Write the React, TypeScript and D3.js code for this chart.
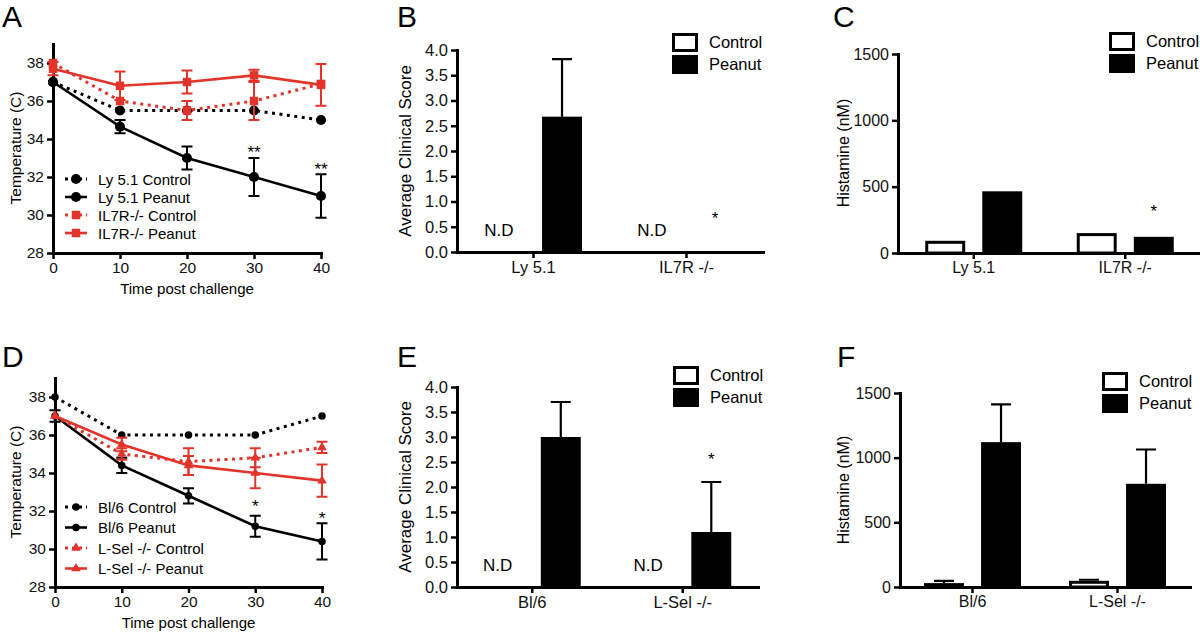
import * as d3 from "d3";
import React, { useEffect, useRef } from "react";

// ---- data ----
const timePoints = [0, 10, 20, 30, 40];
const tempTicks = [28, 30, 32, 34, 36, 38];

// panel A
const ly51Control = [37, 35.5, 35.5, 35.5, 35];
const ly51ControlErr = [0, 0, 0, 0, 0];
const ly51Peanut = [37, 34.65, 33, 32, 31];
const ly51PeanutErr = [0, 0.35, 0.6, 1.0, 1.15];
const il7rControl = [38, 36, 35.5, 36, 36.9];
const il7rControlErr = [0, 0, 0.5, 1.0, 0];
const il7rPeanut = [37.7, 36.8, 37, 37.35, 36.85];
const il7rPeanutErr = [0.35, 0.75, 0.6, 0.3, 1.1];
const starsA = [
  { t: 30, v: 33.5, text: "**" },
  { t: 40, v: 32.6, text: "**" },
];

// panel D
const bl6Control = [38, 36, 36, 36, 37];
const bl6ControlErr = [0, 0, 0, 0, 0];
const bl6Peanut = [37, 34.4, 32.8, 31.2, 30.4];
const bl6PeanutErr = [0.3, 0.4, 0.4, 0.55, 0.95];
const lselControl = [37, 35, 34.6, 34.8, 35.35];
const lselControlErr = [0, 0.3, 0.7, 0.5, 0.3];
const lselPeanut = [37, 35.5, 34.4, 34, 33.6];
const lselPeanutErr = [0, 0.35, 0.5, 0.8, 0.85];
const starsD = [
  { t: 30, v: 32.45, text: "*" },
  { t: 40, v: 31.8, text: "*" },
];

// bar panels
const conditions = ["Control", "Peanut"];
const groupsB = ["Ly 5.1", "IL7R -/-"];
const scoreControlB = [null, null]; // N.D
const scorePeanutB = [2.68, 0];
const scorePeanutErrB = [1.14, 0];
const starsB = [{ group: "IL7R -/-", v: 0.75 }];

const groupsC = ["Ly 5.1", "IL7R -/-"];
const histControlC = [92, 150];
const histPeanutC = [465, 122];
const starsC = [{ group: "IL7R -/-", v: 345 }];

const groupsE = ["Bl/6", "L-Sel -/-"];
const scoreControlE = [null, null];
const scorePeanutE = [3.0, 1.1];
const scorePeanutErrE = [0.7, 1.0];
const starsE = [{ group: "L-Sel -/-", v: 2.63 }];

const groupsF = ["Bl/6", "L-Sel -/-"];
const histControlF = [30, 48];
const histControlErrF = [18, 8];
const histPeanutF = [1120, 798];
const histPeanutErrF = [292, 265];

const scoreTicks = [0, 0.5, 1, 1.5, 2, 2.5, 3, 3.5, 4];
const histTicks = [0, 500, 1000, 1500];

const RED = "#e3342b";
const FONT = "'Liberation Sans', Arial, Helvetica, sans-serif";

function styleAxis(g, fs) {
  g.attr("font-size", fs).attr("font-family", FONT);
  g.select(".domain").attr("stroke", "#000").attr("stroke-width", 3).attr("stroke-linecap", "square");
  g.selectAll(".tick line").attr("stroke", "#000").attr("stroke-width", 2.5);
  g.selectAll(".tick text").attr("fill", "#111");
}

function panelLetter(svg, letter, x, y) {
  svg.append("text").attr("x", x).attr("y", y).attr("font-size", 30).attr("font-family", FONT).text(letter);
}

function yTitle(svg, text, x, cy, fs) {
  svg
    .append("text")
    .attr("transform", `translate(${x},${cy}) rotate(-90)`)
    .attr("text-anchor", "middle")
    .attr("font-size", fs)
    .attr("font-family", FONT)
    .text(text);
}

function drawLinePanel(svg, p) {
  const g = svg.append("g");
  const x = d3.scaleLinear().domain([0, 40]).range(p.xRange);
  const y = d3.scaleLinear().domain([28, 39]).range(p.yRange);

  styleAxis(
    g.append("g")
      .attr("transform", `translate(0,${p.yRange[0]})`)
      .call(d3.axisBottom(x).tickValues(timePoints).tickSize(6).tickSizeOuter(0).tickPadding(3)),
    15.5
  );
  styleAxis(
    g.append("g")
      .attr("transform", `translate(${p.xRange[0]},0)`)
      .call(d3.axisLeft(y).tickValues(tempTicks).tickSize(6).tickSizeOuter(0).tickPadding(3)),
    15.5
  );

  p.series.forEach((s) => {
    const line = d3
      .line()
      .x((d, i) => x(timePoints[i]))
      .y((d) => y(d));
    g.append("path")
      .attr("d", line(s.values))
      .attr("fill", "none")
      .attr("stroke", s.color)
      .attr("stroke-width", s.dashed ? 3 : 2.6)
      .attr("stroke-dasharray", s.dashed ? "3,4.5" : null);

    s.errors.forEach((e, i) => {
      if (!e) return;
      const cx = x(timePoints[i]);
      const y0 = y(s.values[i] - e);
      const y1 = y(s.values[i] + e);
      g.append("path")
        .attr("d", `M${cx},${y0}V${y1}M${cx - 5.5},${y0}H${cx + 5.5}M${cx - 5.5},${y1}H${cx + 5.5}`)
        .attr("stroke", s.color)
        .attr("stroke-width", 2)
        .attr("fill", "none");
    });

    const sym = d3.symbol().type(s.marker).size(s.size);
    g.selectAll(null)
      .data(s.values)
      .join("path")
      .attr("transform", (d, i) => `translate(${x(timePoints[i])},${y(d)})`)
      .attr("d", sym())
      .attr("fill", s.color);
  });

  // legend
  p.series.forEach((s, i) => {
    const ly = p.legendY + i * p.legendStep;
    g.append("line")
      .attr("x1", p.legendX)
      .attr("x2", p.legendX + 22)
      .attr("y1", ly)
      .attr("y2", ly)
      .attr("stroke", s.color)
      .attr("stroke-width", s.dashed ? 3 : 2.6)
      .attr("stroke-dasharray", s.dashed ? "3,4" : null);
    g.append("path")
      .attr("transform", `translate(${p.legendX + 11},${ly})`)
      .attr("d", d3.symbol().type(s.marker).size(s.size)())
      .attr("fill", s.color);
    g.append("text")
      .attr("x", p.legendX + 33)
      .attr("y", ly + 5.5)
      .attr("font-size", 15)
      .attr("font-family", FONT)
      .text(s.name);
  });

  p.stars.forEach((st) => {
    g.append("text")
      .attr("x", x(st.t))
      .attr("y", y(st.v) + 9.5)
      .attr("text-anchor", "middle")
      .attr("font-size", 17)
      .attr("font-family", FONT)
      .text(st.text);
  });

  g.append("text")
    .attr("x", (p.xRange[0] + p.xRange[1]) / 2)
    .attr("y", p.yRange[0] + 41)
    .attr("text-anchor", "middle")
    .attr("font-size", 15)
    .attr("font-family", FONT)
    .text("Time post challenge");
}

function drawBarPanel(svg, p) {
  const g = svg.append("g");
  const x0 = d3.scaleBand().domain(p.groups).range(p.xRange).paddingInner(0).paddingOuter(0);
  const x1 = d3.scaleBand().domain(conditions).range([-48.5, 48.5]).paddingInner(0.3);
  const y = d3.scaleLinear().domain(p.yDomain).range(p.yRange);
  const cx = (grp) => x0(grp) + x0.bandwidth() / 2;
  const bw = x1.bandwidth();

  const series = [
    { key: "Control", values: p.control, errors: p.controlErr },
    { key: "Peanut", values: p.peanut, errors: p.peanutErr },
  ];

  series.forEach((s) => {
    p.groups.forEach((grp, i) => {
      const v = s.values[i];
      const left = cx(grp) + x1(s.key);
      if (v == null) {
        g.append("text")
          .attr("x", left + bw / 2 - 6)
          .attr("y", y(0) - 16)
          .attr("text-anchor", "middle")
          .attr("font-size", 17)
          .attr("font-family", FONT)
          .text("N.D");
        return;
      }
      if (v <= 0) return;
      const e = s.errors ? s.errors[i] : 0;
      if (e) {
        const mx = left + bw / 2;
        g.append("path")
          .attr("d", `M${mx},${y(v)}V${y(v + e)}M${mx - 10},${y(v + e)}H${mx + 10}`)
          .attr("stroke", "#000")
          .attr("stroke-width", 2.2)
          .attr("fill", "none");
      }
      if (s.key === "Control") {
        g.append("rect")
          .attr("x", left + 1.5)
          .attr("y", y(v) + 1.5)
          .attr("width", bw - 3)
          .attr("height", Math.max(0, y(0) - y(v) - 1.5))
          .attr("fill", "#fff")
          .attr("stroke", "#000")
          .attr("stroke-width", 3);
      } else {
        g.append("rect")
          .attr("x", left)
          .attr("y", y(v))
          .attr("width", bw)
          .attr("height", y(0) - y(v))
          .attr("fill", "#000");
      }
    });
  });

  styleAxis(
    g.append("g")
      .attr("transform", `translate(0,${p.yRange[0]})`)
      .call(d3.axisBottom(x0).tickSize(6).tickSizeOuter(0).tickPadding(3)),
    p.fs
  );
  styleAxis(
    g.append("g")
      .attr("transform", `translate(${p.xRange[0]},0)`)
      .call(d3.axisLeft(y).tickValues(p.ticks).tickFormat(p.format).tickSize(6).tickSizeOuter(0).tickPadding(3)),
    p.fs
  );

  p.stars.forEach((st) => {
    g.append("text")
      .attr("x", cx(st.group) + x1("Peanut") + bw / 2)
      .attr("y", y(st.v) + 9.5)
      .attr("text-anchor", "middle")
      .attr("font-size", 17)
      .attr("font-family", FONT)
      .text("*");
  });

  // legend
  conditions.forEach((c, i) => {
    const by = p.legendY + i * 22;
    g.append("rect")
      .attr("x", p.legendX + (i === 0 ? 1.5 : 0))
      .attr("y", by + (i === 0 ? 1.5 : 0))
      .attr("width", i === 0 ? 23 : 26)
      .attr("height", i === 0 ? 16 : 19)
      .attr("fill", i === 0 ? "#fff" : "#000")
      .attr("stroke", i === 0 ? "#000" : "none")
      .attr("stroke-width", 3);
    g.append("text")
      .attr("x", p.legendX + 37)
      .attr("y", by + 15)
      .attr("font-size", 16.5)
      .attr("font-family", FONT)
      .text(c);
  });
}

export default function App() {
  const ref = useRef(null);

  useEffect(() => {
    const svg = d3.select(ref.current);
    svg.selectAll("*").remove();

    // A
    panelLetter(svg, "A", 2, 27);
    yTitle(svg, "Temperature (C)", 21, 148, 15.5);
    drawLinePanel(svg, {
      xRange: [53, 321],
      yRange: [253, 44],
      legendX: 65,
      legendY: 179,
      legendStep: 18,
      stars: starsA,
      series: [
        { name: "Ly 5.1 Control", values: ly51Control, errors: ly51ControlErr, color: "#000", dashed: true, marker: d3.symbolCircle, size: 80 },
        { name: "Ly 5.1 Peanut", values: ly51Peanut, errors: ly51PeanutErr, color: "#000", dashed: false, marker: d3.symbolCircle, size: 80 },
        { name: "IL7R-/- Control", values: il7rControl, errors: il7rControlErr, color: RED, dashed: true, marker: d3.symbolSquare, size: 72 },
        { name: "IL7R-/- Peanut", values: il7rPeanut, errors: il7rPeanutErr, color: RED, dashed: false, marker: d3.symbolSquare, size: 72 },
      ],
    });

    // D
    panelLetter(svg, "D", 2, 367);
    yTitle(svg, "Temperature (C)", 21, 482, 15.5);
    drawLinePanel(svg, {
      xRange: [55, 322],
      yRange: [587, 378],
      legendX: 65,
      legendY: 507,
      legendStep: 20.5,
      stars: starsD,
      series: [
        { name: "Bl/6 Control", values: bl6Control, errors: bl6ControlErr, color: "#000", dashed: true, marker: d3.symbolCircle, size: 44 },
        { name: "Bl/6 Peanut", values: bl6Peanut, errors: bl6PeanutErr, color: "#000", dashed: false, marker: d3.symbolCircle, size: 44 },
        { name: "L-Sel -/- Control", values: lselControl, errors: lselControlErr, color: RED, dashed: true, marker: d3.symbolTriangle, size: 40 },
        { name: "L-Sel -/- Peanut", values: lselPeanut, errors: lselPeanutErr, color: RED, dashed: false, marker: d3.symbolTriangle, size: 40 },
      ],
    });

    // B
    panelLetter(svg, "B", 397, 27);
    yTitle(svg, "Average Clinical Score", 411, 151, 17);
    drawBarPanel(svg, {
      groups: groupsB,
      control: scoreControlB,
      controlErr: null,
      peanut: scorePeanutB,
      peanutErr: scorePeanutErrB,
      stars: starsB,
      xRange: [457, 763],
      yDomain: [0, 4],
      yRange: [252, 50],
      ticks: scoreTicks,
      format: d3.format(".1f"),
      fs: 16.5,
      legendX: 672,
      legendY: 33,
    });

    // E
    panelLetter(svg, "E", 397, 367);
    yTitle(svg, "Average Clinical Score", 411, 487, 17);
    drawBarPanel(svg, {
      groups: groupsE,
      control: scoreControlE,
      controlErr: null,
      peanut: scorePeanutE,
      peanutErr: scorePeanutErrE,
      stars: starsE,
      xRange: [457, 758],
      yDomain: [0, 4],
      yRange: [587, 387],
      ticks: scoreTicks,
      format: d3.format(".1f"),
      fs: 16.5,
      legendX: 673,
      legendY: 366,
    });

    // C
    panelLetter(svg, "C", 833, 27);
    yTitle(svg, "Histamine (nM)", 849, 153, 16);
    drawBarPanel(svg, {
      groups: groupsC,
      control: histControlC,
      controlErr: null,
      peanut: histPeanutC,
      peanutErr: null,
      stars: starsC,
      xRange: [898, 1201],
      yDomain: [0, 1500],
      yRange: [253, 54],
      ticks: histTicks,
      format: d3.format("d"),
      fs: 16,
      legendX: 1109,
      legendY: 32,
    });

    // F
    panelLetter(svg, "F", 837, 367);
    yTitle(svg, "Histamine (nM)", 849, 490, 16);
    drawBarPanel(svg, {
      groups: groupsF,
      control: histControlF,
      controlErr: histControlErrF,
      peanut: histPeanutF,
      peanutErr: histPeanutErrF,
      stars: [],
      xRange: [900, 1190],
      yDomain: [0, 1500],
      yRange: [587, 393],
      ticks: histTicks,
      format: d3.format("d"),
      fs: 16,
      legendX: 1102,
      legendY: 372,
    });
  }, []);

  return (
    <svg
      ref={ref}
      width={1200}
      height={633}
      style={{ position: "absolute", left: 0, top: 0, background: "#fff", fontFamily: FONT }}
    />
  );
}
